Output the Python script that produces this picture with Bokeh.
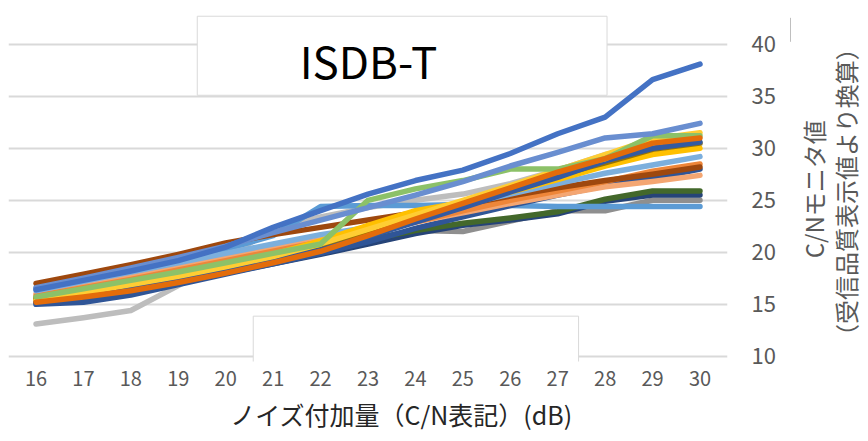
from bokeh.plotting import figure
from bokeh.models import Range1d, FixedTicker, Label
from bokeh.layouts import row, column
from bokeh.embed import file_html
from bokeh.resources import INLINE

# ---- data ----
noise_db = [16, 17, 18, 19, 20, 21, 22, 23, 24, 25, 26, 27, 28, 29, 30]
y_ticks = [10, 15, 20, 25, 30, 35, 40]

s_lightgray = [13.1, 13.7, 14.4, 16.8, 19.4, 22.3, 23.4, 24.3, 25.0, 25.6, 26.6, 27.9, 29.4, 30.0, 30.4]
s_gray      = [15.3, 16.0, 16.8, 17.7, 19.0, 20.0, 20.3, 21.2, 22.1, 22.0, 23.0, 24.0, 24.0, 25.0, 25.0]
s_navy      = [15.1, 15.6, 16.3, 17.1, 18.0, 18.9, 19.8, 20.8, 21.8, 22.6, 23.1, 23.7, 24.9, 25.5, 25.5]
s_dkgreen   = [15.6, 16.3, 17.0, 17.8, 18.7, 19.5, 20.3, 21.2, 22.1, 22.8, 23.3, 23.9, 25.1, 25.9, 25.9]
s_ltblue    = [16.5, 17.4, 18.3, 19.3, 20.3, 21.6, 24.4, 24.5, 24.5, 24.6, 24.5, 24.4, 24.4, 24.4, 24.4]
s_dkblue    = [15.0, 15.2, 15.9, 16.9, 17.9, 18.9, 19.9, 21.0, 22.3, 23.4, 24.5, 25.5, 26.4, 27.1, 28.0]
s_peach     = [16.0, 16.9, 17.7, 18.6, 19.5, 20.4, 21.2, 22.0, 22.9, 23.8, 24.7, 25.5, 26.3, 26.8, 27.4]
s_orange2   = [15.8, 16.6, 17.4, 18.3, 19.2, 20.1, 21.0, 21.9, 22.9, 24.0, 25.0, 25.9, 26.8, 27.8, 28.5]
s_brown     = [17.0, 17.9, 18.8, 19.8, 20.9, 21.7, 22.4, 23.1, 23.8, 24.6, 25.4, 26.2, 26.9, 27.5, 28.2]
s_skyblue   = [16.3, 17.2, 18.1, 19.0, 19.9, 20.8, 21.7, 22.4, 23.5, 24.6, 25.6, 26.6, 27.6, 28.4, 29.2]
s_gold      = [15.5, 16.2, 17.0, 17.9, 18.8, 19.8, 21.1, 22.6, 24.0, 24.8, 25.8, 27.0, 28.3, 29.4, 30.0]
s_olive     = [15.5, 16.1, 16.8, 17.6, 18.5, 19.4, 20.4, 21.8, 23.2, 24.6, 26.0, 27.4, 28.6, 29.9, 30.5]
s_blue2     = [15.2, 15.8, 16.6, 17.4, 18.3, 19.2, 20.2, 21.5, 22.9, 24.3, 25.8, 27.2, 28.8, 30.0, 30.6]
s_ltgold    = [15.4, 16.1, 16.9, 17.7, 18.6, 19.6, 20.8, 22.2, 23.6, 25.0, 26.4, 27.9, 29.4, 30.9, 31.5]
s_green     = [15.7, 16.5, 17.3, 18.1, 19.0, 19.9, 20.8, 25.0, 26.1, 26.9, 28.0, 28.0, 29.0, 31.2, 31.2]
s_orange    = [15.2, 15.7, 16.3, 17.1, 18.0, 19.0, 20.1, 21.6, 23.2, 24.7, 26.2, 27.7, 29.0, 30.5, 31.0]
s_blue3     = [16.6, 17.5, 18.5, 19.5, 20.6, 21.9, 23.1, 24.3, 25.5, 26.8, 28.3, 29.6, 31.0, 31.4, 32.4]
s_blue      = [16.4, 17.3, 18.2, 19.2, 20.5, 22.4, 24.0, 25.6, 26.9, 27.9, 29.5, 31.4, 33.0, 36.6, 38.1]

series = [
    (s_lightgray, "#BDBDBD"),
    (s_gray, "#8F8F8F"),
    (s_navy, "#264478"),
    (s_dkgreen, "#43682B"),
    (s_ltblue, "#5B9BD5"),
    (s_dkblue, "#2F5597"),
    (s_peach, "#F4A672"),
    (s_orange2, "#EE8639"),
    (s_brown, "#9E480E"),
    (s_skyblue, "#7CAFDD"),
    (s_gold, "#FFC000"),
    (s_olive, "#997300"),
    (s_blue2, "#335AA1"),
    (s_ltgold, "#FFCD33"),
    (s_green, "#8CC168"),
    (s_orange, "#E36C0A"),
    (s_blue3, "#698ED0"),
    (s_blue, "#4472C4"),
]

title_text = "ISDB-T"
x_title = "ノイズ付加量（C/N表記）(dB)"
y_title_1 = "C/Nモニタ値"
y_title_2 = "（受信品質表示値より換算）"

FONT = "Noto Sans CJK JP"

# ---- main chart ----
p = figure(width=783, height=393, output_backend="svg", toolbar_location=None,
           x_range=Range1d(15.42, 30.58), y_range=Range1d(9.5, 43.06),
           y_axis_location="right",
           min_border_left=8, min_border_right=56, min_border_top=12, min_border_bottom=32)
p.outline_line_color = None
p.background_fill_color = "white"
p.border_fill_color = "white"

p.xgrid.visible = False
p.ygrid.ticker = FixedTicker(ticks=y_ticks)
p.ygrid.grid_line_color = "#D9D9D9"
p.ygrid.grid_line_width = 2

# white boxes (chart title box and empty box at the bottom)
p.quad(left=19.40, right=28.04, bottom=35.1, top=42.7,
       fill_color="white", line_color="#D9D9D9", line_width=1)
p.quad(left=20.58, right=27.44, bottom=8.0, top=13.86,
       fill_color="white", line_color="#D9D9D9", line_width=1)

for vals, col in series:
    p.line(noise_db, vals, line_color=col, line_width=5.5,
           line_join="round", line_cap="round")

xa = p.xaxis[0]
xa.ticker = FixedTicker(ticks=noise_db)
xa.axis_line_color = None
xa.major_tick_line_color = None
xa.minor_tick_line_color = None
xa.major_label_standoff = 3
xa.major_label_text_font = FONT
xa.major_label_text_font_size = "20px"
xa.major_label_text_color = "#595959"

ya = p.yaxis[0]
ya.ticker = FixedTicker(ticks=y_ticks)
ya.axis_line_color = None
ya.major_tick_line_color = None
ya.minor_tick_line_color = None
ya.major_label_standoff = 18
ya.major_label_text_font = FONT
ya.major_label_text_font_size = "22px"
ya.major_label_text_color = "#595959"

p.add_layout(Label(x=23.01, y=38.48, text=title_text, text_align="center",
                   text_baseline="middle", text_font=FONT,
                   text_font_size="44px", text_color="#000000"))

# ---- right strip: axis title (two rotated lines) ----
p2 = figure(width=81, height=393, output_backend="svg", toolbar_location=None,
            x_range=Range1d(783, 864), y_range=Range1d(393, 0),
            x_axis_type=None, y_axis_type=None,
            min_border_left=0, min_border_right=0, min_border_top=0, min_border_bottom=0)
p2.outline_line_color = None
p2.grid.visible = False
p2.segment(x0=[790], y0=[6], x1=[790], y1=[33], line_color="#BFBFBF", line_width=1)
p2.add_layout(Label(x=813, y=199, text=y_title_1, angle=1.5708,
                    text_align="center", text_baseline="middle",
                    text_font=FONT, text_font_size="24px", text_color="#595959"))
p2.add_layout(Label(x=845, y=202, text=y_title_2, angle=1.5708,
                    text_align="center", text_baseline="middle",
                    text_font=FONT, text_font_size="24px", text_color="#595959"))

# ---- bottom strip: x axis title ----
p3 = figure(width=864, height=48, output_backend="svg", toolbar_location=None,
            x_range=Range1d(0, 864), y_range=Range1d(441, 393),
            x_axis_type=None, y_axis_type=None,
            min_border_left=0, min_border_right=0, min_border_top=0, min_border_bottom=0)
p3.outline_line_color = None
p3.grid.visible = False
p3.add_layout(Label(x=401, y=413, text=x_title,
                    text_align="center", text_baseline="middle",
                    text_font=FONT, text_font_size="25px", text_color="#262626"))

layout = column(row(p, p2), p3)
open("out.html", "w").write(file_html(layout, INLINE))
